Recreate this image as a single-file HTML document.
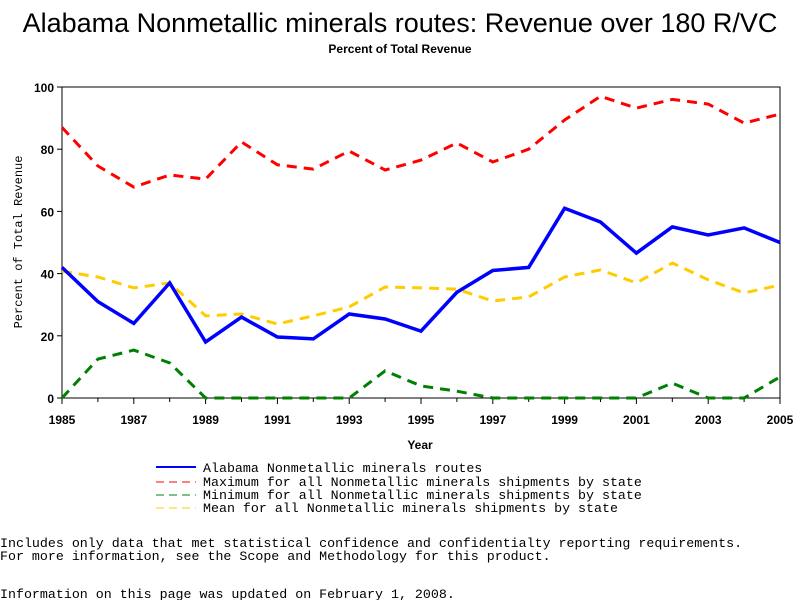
<!DOCTYPE html>
<html><head><meta charset="utf-8"><style>
body{margin:0;background:#fff;}
svg{display:block;}
</style></head><body>
<svg id="chart" width="800" height="600" xmlns="http://www.w3.org/2000/svg">
<text x="400" y="32" text-anchor="middle" font-family="Liberation Sans, sans-serif" font-size="27">Alabama Nonmetallic minerals routes: Revenue over 180 R/VC</text>
<text x="400" y="53" text-anchor="middle" font-family="Liberation Sans, sans-serif" font-size="12" font-weight="bold">Percent of Total Revenue</text>
<g id="axes"></g>
<g id="series"></g>
<text x="420" y="449" text-anchor="middle" font-family="Liberation Sans, sans-serif" font-size="12" font-weight="bold">Year</text>
<text transform="translate(22,242) rotate(-90)" text-anchor="middle" font-family="Liberation Mono, monospace" font-size="12">Percent of Total Revenue</text>
<g font-family="Liberation Mono, monospace" font-size="13.3">
<line x1="156" y1="467" x2="196" y2="467" stroke="#0000ff" stroke-width="2"/>
<text x="203" y="472">Alabama Nonmetallic minerals routes</text>
<line x1="156" y1="482" x2="196" y2="482" stroke="#ff0000" stroke-width="1" stroke-dasharray="8,5"/>
<text x="203" y="486">Maximum for all Nonmetallic minerals shipments by state</text>
<line x1="156" y1="495" x2="196" y2="495" stroke="#008000" stroke-width="1" stroke-dasharray="8,5"/>
<text x="203" y="499">Minimum for all Nonmetallic minerals shipments by state</text>
<line x1="156" y1="508" x2="196" y2="508" stroke="#ffcc00" stroke-width="1" stroke-dasharray="8,5"/>
<text x="203" y="512">Mean for all Nonmetallic minerals shipments by state</text>
</g>
<g font-family="Liberation Mono, monospace" font-size="13.3">
<text x="0" y="547">Includes only data that met statistical confidence and confidentialty reporting requirements.</text>
<text x="0" y="560">For more information, see the Scope and Methodology for this product.</text>
<text x="0" y="598">Information on this page was updated on February 1, 2008.</text>
</g>
</svg>
<script>
const years=[1985,1986,1987,1988,1989,1990,1991,1992,1993,1994,1995,1996,1997,1998,1999,2000,2001,2002,2003,2004,2005];
const alabama=[42,31,24,37,18,26,19.6,19,27,25.4,21.5,34,41,42,61,56.6,46.6,55,52.4,54.7,50];
const maxVals=[87,74.6,67.8,71.7,70.4,82.3,75,73.6,79.4,73.3,76.5,82,75.9,80,89.4,97,93.2,96,94.5,88.4,91.3];
const minVals=[0,12.5,15.4,11.3,0,0,0,0,0,8.7,3.9,2.2,0,0,0,0,0,4.8,0,0,6.8];
const meanVals=[40.8,38.9,35.4,37,26.4,27,23.8,26.4,29.3,35.7,35.4,35,31.2,32.5,38.9,41.2,37,43.4,38,33.8,36.3];
const yTicks=[0,20,40,60,80,100];
const xLabels=[1985,1987,1989,1991,1993,1995,1997,1999,2001,2003,2005];
const X0=62,X1=780,Y0=398,Y1=87;
const sx=v=>X0+(v-1985)/(2005-1985)*(X1-X0);
const sy=v=>Y0-(v/100)*(Y0-Y1);
const NS="http://www.w3.org/2000/svg";
const axes=document.getElementById('axes');
function mk(tag,attrs,parent){const e=document.createElementNS(NS,tag);for(const k in attrs)e.setAttribute(k,attrs[k]);parent.appendChild(e);return e;}
const frame=mk('rect',{x:X0,y:Y1,width:X1-X0,height:Y0-Y1,fill:'none',stroke:'#000'},axes);


yTicks.forEach(t=>{
  const l=mk('line',{x1:X0-5,x2:X0,y1:sy(t),y2:sy(t),stroke:'#000'},axes);
  
  
  const tx=mk('text',{x:X0-8,y:sy(t)+5,'text-anchor':'end','font-family':'Liberation Sans, sans-serif','font-size':'12','font-weight':'bold'},axes);
  tx.textContent=t;
  
  
});
years.forEach(y=>{
  const big=xLabels.includes(y);
  const l=mk('line',{x1:sx(y),x2:sx(y),y1:Y0,y2:Y0+(big?6:4),stroke:'#000'},axes);
  
  
});
xLabels.forEach(y=>{
  const tx=mk('text',{x:sx(y),y:Y0+26,'text-anchor':'middle','font-family':'Liberation Sans, sans-serif','font-size':'12','font-weight':'bold'},axes);
  tx.textContent=y;
  
  
});
const g=document.getElementById('series');
function line(vals,color,w,dash,name){
  const d=vals.map((v,i)=>(i?'L':'M')+sx(years[i]).toFixed(1)+','+sy(v).toFixed(1)).join(' ');
  const p=mk('path',{d:d,fill:'none',stroke:color,'stroke-width':w},g);
  if(dash)p.setAttribute('stroke-dasharray',dash);
  
  
}
line(maxVals,'#ff0000',3,'10,7','max-line');
line(meanVals,'#ffcc00',3,'10,7','mean-line');
line(minVals,'#008000',3,'10,7','min-line');
line(alabama,'#0000ff',3.5,null,'alabama-line');
</script>
</body></html>
